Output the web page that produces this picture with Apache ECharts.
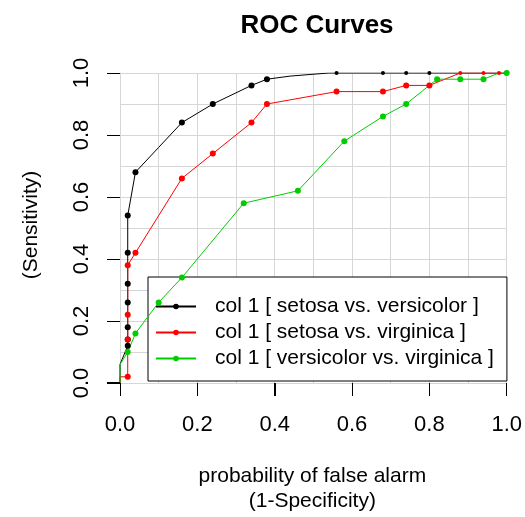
<!DOCTYPE html>
<html>
<head>
<meta charset="utf-8">
<script src="https://cdn.jsdelivr.net/npm/echarts@6/dist/echarts.min.js"></script>
<style>
  html, body { margin: 0; padding: 0; background: #fff; }
  #chart { width: 525px; height: 517px; }
</style>
</head>
<body>
<div id="chart"></div>
<script>
// ROC curves for column 1, one curve per pair of classes.
const curveNames = [
  'col 1 [ setosa vs. versicolor ]',
  'col 1 [ setosa vs. virginica ]',
  'col 1 [ versicolor vs. virginica ]'
];
const curveColors = ['#000000', '#ff0000', '#00cd00'];

// false alarm rate (1-Specificity) and detection rate (Sensitivity)
const setosaVersicolorFpr = [0, 0, 0.02, 0.02, 0.02, 0.02, 0.02, 0.02, 0.02, 0.04, 0.10, 0.16, 0.24, 0.34, 0.38, 0.44, 0.54, 0.56, 0.68, 0.74, 0.80, 1.0];
const setosaVersicolorTpr = [0, 0.06, 0.12, 0.14, 0.18, 0.26, 0.32, 0.42, 0.54, 0.68, 0.76, 0.84, 0.90, 0.96, 0.98, 0.99, 1.0, 1.0, 1.0, 1.0, 1.0, 1.0];
// 1 = plotted point, 0 = line vertex only, 2 = small point
const setosaVersicolorPts = [0, 0, 1, 1, 1, 1, 1, 1, 1, 1, 0, 1, 1, 1, 1, 0, 0, 2, 2, 2, 2, 0];

const setosaVirginicaFpr = [0, 0, 0.02, 0.02, 0.02, 0.02, 0.04, 0.16, 0.24, 0.34, 0.38, 0.56, 0.68, 0.74, 0.80, 0.88, 0.94, 0.98, 1.0];
const setosaVirginicaTpr = [0, 0.02, 0.02, 0.14, 0.22, 0.38, 0.42, 0.66, 0.74, 0.84, 0.90, 0.94, 0.94, 0.96, 0.96, 1.0, 1.0, 1.0, 1.0];
const setosaVirginicaPts = [0, 0, 1, 1, 1, 1, 1, 1, 1, 1, 1, 1, 1, 1, 1, 2, 2, 2, 0];

const versicolorVirginicaFpr = [0, 0, 0.02, 0.04, 0.10, 0.16, 0.32, 0.46, 0.58, 0.68, 0.74, 0.82, 0.88, 0.94, 0.98, 1.0];
const versicolorVirginicaTpr = [0, 0.06, 0.10, 0.16, 0.26, 0.34, 0.58, 0.62, 0.78, 0.86, 0.90, 0.98, 0.98, 0.98, 1.0, 1.0];
const versicolorVirginicaPts = [0, 0, 1, 1, 1, 1, 1, 1, 1, 1, 1, 1, 1, 1, 0, 1];

const axisTicks = [0, 0.2, 0.4, 0.6, 0.8, 1.0];

const xTitle = 'probability of false alarm\n(1-Specificity)';
const yTitle = '(Sensitivity)';

const FONT = '"Liberation Sans", Arial, sans-serif';
const GRID_GREY = '#d6d6d6';
const TICK_LEN = 13;

function buildPoints(fpr, tpr, pts) {
  return fpr.map((x, i) => {
    const item = { value: [x, tpr[i]] };
    if (pts[i] === 0) item.symbol = 'none';
    if (pts[i] === 2) item.symbolSize = 4;
    return item;
  });
}

const curves = [
  buildPoints(setosaVersicolorFpr, setosaVersicolorTpr, setosaVersicolorPts),
  buildPoints(setosaVirginicaFpr, setosaVirginicaTpr, setosaVirginicaPts),
  buildPoints(versicolorVirginicaFpr, versicolorVirginicaTpr, versicolorVirginicaPts)
];

function axisCommon(labelMargin, rotate) {
  return {
    type: 'value',
    min: axisTicks[0],
    max: axisTicks[axisTicks.length - 1],
    interval: axisTicks[1] - axisTicks[0],
    axisLine: { show: true, onZero: false, lineStyle: { color: GRID_GREY, width: 1 } },
    axisTick: { show: true, length: TICK_LEN, lineStyle: { color: '#000', width: 1 } },
    minorTick: { show: false, splitNumber: 2 },
    splitLine: { show: true, lineStyle: { color: GRID_GREY, width: 1 } },
    minorSplitLine: { show: true, lineStyle: { color: GRID_GREY, width: 1 } },
    axisLabel: {
      fontFamily: FONT, fontSize: 22, color: '#000', lineHeight: 22,
      margin: labelMargin, rotate: rotate,
      formatter: v => v.toFixed(1)
    }
  };
}

const chart = echarts.init(document.getElementById('chart'), null, { renderer: 'canvas' });
chart.setOption({
  animation: false,
  title: {
    text: 'ROC Curves',
    left: 312,
    textAlign: 'center',
    top: 8,
    textStyle: { fontFamily: FONT, fontSize: 26, fontWeight: 'bold', color: '#000' }
  },
  grid: { left: 120, top: 73, width: 389, height: 310 },
  xAxis: axisCommon(31, 0),
  yAxis: axisCommon(27, 90),
  legend: {
    orient: 'vertical',
    left: 148,
    top: 277,
    z: 1,
    padding: [19, 13, 12, 7],
    itemGap: 5,
    itemWidth: 40,
    itemHeight: 7,
    borderColor: '#000',
    borderWidth: 1,
    borderRadius: 0,
    backgroundColor: '#fff',
    data: curveNames,
    textStyle: { fontFamily: FONT, fontSize: 21, color: '#000', lineHeight: 21, padding: [0, 0, 0, 14] }
  },
  series: curveNames.map((name, i) => ({
    name: name,
    type: 'line',
    data: curves[i],
    z: 2,
    symbol: 'circle',
    symbolSize: 6,
    showSymbol: true,
    color: curveColors[i],
    lineStyle: { color: curveColors[i], width: 1 },
    itemStyle: { color: curveColors[i] },
    emphasis: { disabled: true }
  }))
});

// Outward tick marks (as 1px bars on their own layer) and axis titles,
// positioned through the axes' scales.
const x0 = chart.convertToPixel({ xAxisIndex: 0 }, axisTicks[0]);
const xRight = chart.convertToPixel({ xAxisIndex: 0 }, axisTicks[axisTicks.length - 1]);
const y0 = chart.convertToPixel({ yAxisIndex: 0 }, axisTicks[0]);
const yTop = chart.convertToPixel({ yAxisIndex: 0 }, axisTicks[axisTicks.length - 1]);

const decorations = [];
axisTicks.forEach(v => {
  const px = Math.round(chart.convertToPixel({ xAxisIndex: 0 }, v));
  const py = Math.round(chart.convertToPixel({ yAxisIndex: 0 }, v));
  decorations.push({
    type: 'rect', zlevel: 1, z: 100, silent: true,
    shape: { x: Math.min(px, Math.round(xRight) - 1), y: Math.round(y0), width: 1, height: TICK_LEN },
    style: { fill: '#000' }
  });
  decorations.push({
    type: 'rect', zlevel: 1, z: 100, silent: true,
    shape: { x: Math.round(x0) - TICK_LEN, y: Math.min(py, Math.round(y0) - 1), width: TICK_LEN, height: 1 },
    style: { fill: '#000' }
  });
});
decorations.push({
  type: 'text', z: 100, silent: true, x: (x0 + xRight) / 2 - 1, y: 464,
  style: { text: xTitle, font: '21px ' + FONT, fill: '#000', align: 'center', verticalAlign: 'top', lineHeight: 25 }
});
decorations.push({
  type: 'text', z: 100, silent: true, x: 31, y: (y0 + yTop) / 2 - 3, rotation: Math.PI / 2,
  style: { text: yTitle, font: '21px ' + FONT, fill: '#000', align: 'center', verticalAlign: 'middle' }
});
chart.setOption({ graphic: decorations });
</script>
</body>
</html>
